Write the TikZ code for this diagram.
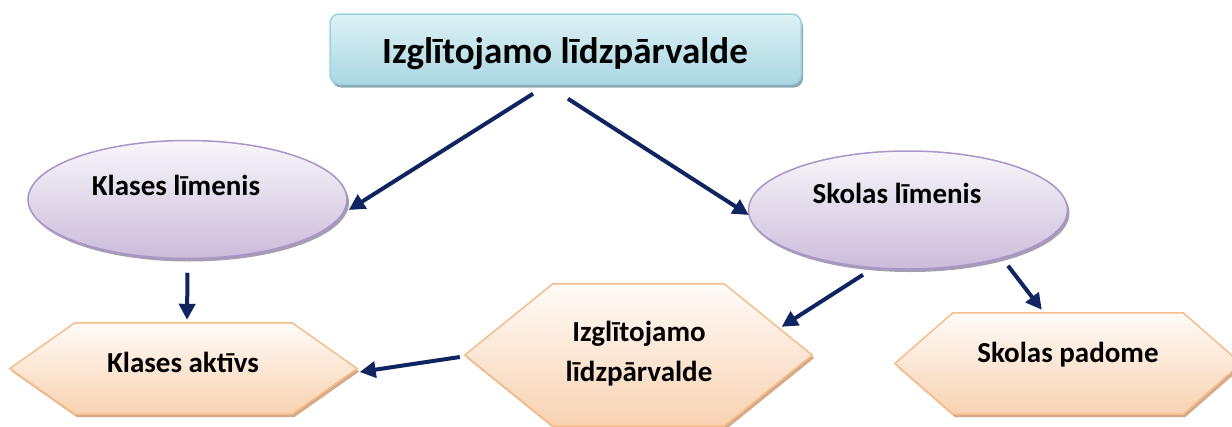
\documentclass[tikz,border=0pt]{standalone}
\usepackage{fontspec}
\setmainfont{Carlito}
\usetikzlibrary{arrows.meta,shapes.geometric,calc}
\definecolor{navy}{HTML}{0F2461}
\definecolor{boxtop}{HTML}{DDF1F5}
\definecolor{boxbot}{HTML}{AAD7E2}
\definecolor{boxline}{HTML}{A0D2DE}
\definecolor{boxshadow}{HTML}{8AAAB4}
\definecolor{elltop}{HTML}{F8F6FA}
\definecolor{ellbot}{HTML}{CBBCDB}
\definecolor{ellline}{HTML}{A995C8}
\definecolor{ellshadow}{HTML}{A69CB3}
\definecolor{hextop}{HTML}{FFFBF8}
\definecolor{hexbot}{HTML}{F8D2B1}
\definecolor{hexline}{HTML}{F5BD8B}
\definecolor{hexshadow}{HTML}{D6A988}
\newcommand\HexShape[2]{%
  \fill[hexshadow] ($(#1.west)+(2,3)$) -- ($(#1.north west)+(#2+2,3)$) -- ($(#1.north east)+(-#2+2,3)$) -- ($(#1.east)+(2,3)$) -- ($(#1.south east)+(-#2+2,3)$) -- ($(#1.south west)+(#2+2,3)$) -- cycle;
  \path[hexstyle] (#1.west) -- ($(#1.north west)+(#2,0)$) -- ($(#1.north east)+(-#2,0)$) -- (#1.east) -- ($(#1.south east)+(-#2,0)$) -- ($(#1.south west)+(#2,0)$) -- cycle;
}
\begin{document}
\begin{tikzpicture}[x=1pt,y=-1pt,
  arr/.style={draw=navy, line width=4pt, -{Triangle[length=16pt,width=16pt]}},
  lbl/.style={font=\fontsize{29}{40}\selectfont\bfseries, inner sep=0pt, anchor=base},
  ellbase/.style={ellipse, minimum width=319pt, minimum height=118pt, inner sep=0pt},
  ellstyle/.style={ellbase, draw=ellline, line width=1.5pt, top color=elltop, bottom color=ellbot},
  ellshad/.style={ellbase, fill=ellshadow},
  hexstyle/.style={draw=hexline, line width=1.5pt, top color=hextop, bottom color=hexbot},
  hexbox/.style={inner sep=0pt},
  boxbase/.style={rectangle, rounded corners=9pt, minimum width=471pt, minimum height=70pt, inner sep=0pt},
]
\useasboundingbox (0,0) rectangle (1232,426);
% top box
\node[boxbase, fill=boxshadow] at (567.5,52.5) {};
\node[boxbase, draw=boxline, line width=1.5pt, top color=boxtop, bottom color=boxbot] (topbox) at (565.5,49) {};
% ellipses
\node[ellshad] at (189.5,202.5) {};
\node[ellstyle] (kl) at (187.5,199.5) {};
\node[ellshad] at (910,213) {};
\node[ellstyle] (sl) at (908,210) {};
% hexagons
\node[hexbox, minimum width=347pt, minimum height=91pt] (ka) at (183.5,368.5) {};
\node[hexbox, minimum width=347pt, minimum height=142pt] (mid) at (638.5,355) {};
\node[hexbox, minimum width=346pt, minimum height=101pt] (sp) at (1068,363.5) {};
\HexShape{ka}{65}
\HexShape{mid}{88}
\HexShape{sp}{58}
% arrows
\draw[arr] ($(topbox.south)+(-32.5,9)$) -- ($(kl.east)+(1,10.5)$);
\draw[arr] ($(topbox.south)+(2.5,14)$) -- ($(sl.west)+(1,5)$);
\draw[arr] ($(kl.south)+(0,13.5)$) -- ($(ka.north)+(3.5,-3)$);
\draw[arr] ($(sl.south)+(-45,5)$) -- ($(mid.north east)+(-30.5,43)$);
\draw[arr] ($(sl.south)+(100,-4)$) -- ($(sp.north west)+(147,-3)$);
\draw[arr] ($(mid.west)+(-5,2)$) -- ($(ka.east)+(2.5,3.5)$);
% labels
\node[lbl, font=\fontsize{37}{44}\selectfont\bfseries] (tl) at (565,63) {Izglītojamo līdzpārvalde};
\node[lbl] (kll) at (176,195) {Klases līmenis};
\node[lbl] (sll) at (897,203) {Skolas līmenis};
\node[lbl] (kal) at (183,372) {Klases aktīvs};
\node[lbl, anchor=center, align=center] (midl) at (639,354) {Izglītojamo\\līdzpārvalde};
\node[lbl] (spl) at (1068,362) {Skolas padome};
\end{tikzpicture}
\end{document}
